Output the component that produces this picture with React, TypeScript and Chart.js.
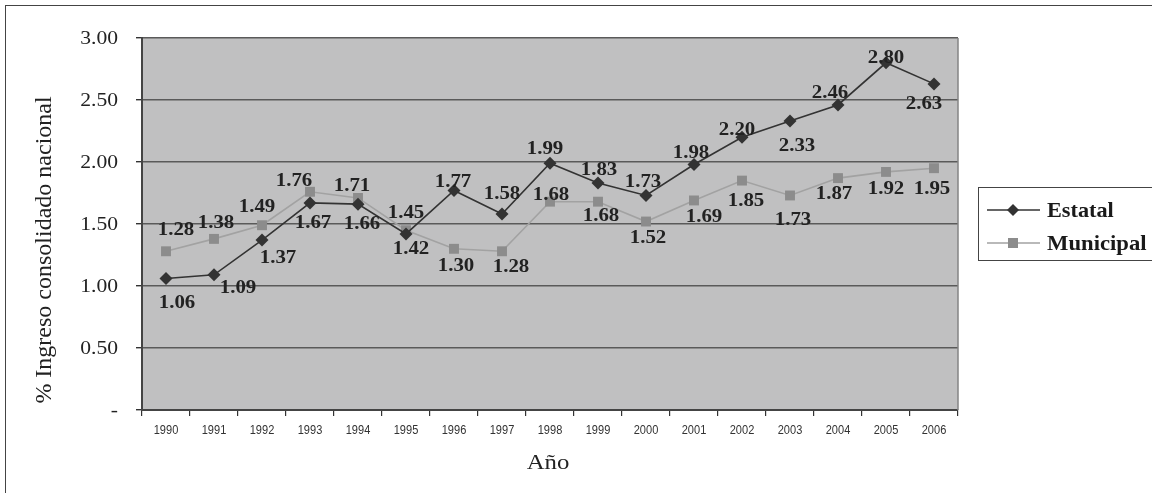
import React, { useEffect, useRef } from "react";
import { Chart, registerables } from "chart.js";

Chart.register(...registerables);

// ---- data ----
const YEARS = ["1990", "1991", "1992", "1993", "1994", "1995", "1996", "1997", "1998", "1999", "2000", "2001", "2002", "2003", "2004", "2005", "2006"];
const ESTATAL = [1.06, 1.09, 1.37, 1.67, 1.66, 1.42, 1.77, 1.58, 1.99, 1.83, 1.73, 1.98, 2.2, 2.33, 2.46, 2.8, 2.63];
const MUNICIPAL = [1.28, 1.38, 1.49, 1.76, 1.71, 1.45, 1.3, 1.28, 1.68, 1.68, 1.52, 1.69, 1.85, 1.73, 1.87, 1.92, 1.95];
const Y_TICKS = [0, 0.5, 1, 1.5, 2, 2.5, 3];
const SERIES_NAMES = ["Estatal", "Municipal"];
const X_TITLE = "Año";
const Y_TITLE = "% Ingreso consolidado nacional";

// ---- style: data-label offsets (dx, dy) from each point, in px ----
const ESTATAL_LABEL_OFFSETS = [
  [11, 23], [24, 12], [16, 16], [3, 19], [4, 18], [5, 14], [-1, -10], [0, -22], [-5, -16],
  [1, -15], [-3, -15], [-3, -13], [-5, -9], [7, 23], [-8, -13], [0, -6], [-10, 19],
];
const MUNICIPAL_LABEL_OFFSETS = [
  [10, -23], [2, -17], [-5, -20], [-16, -12], [-6, -13], [0, -19], [2, 16], [9, 14], [1, -8],
  [3, 13], [2, 15], [10, 15], [4, 19], [3, 23], [-4, 14], [0, 16], [-2, 19],
];

const ESTATAL_COLOR = "#333333";
const MUNI_LINE = "#a2a2a2";
const MUNI_MARK = "#8c8c8c";
const PLOT_BG = "#c0c0c1";
const SERIF = "'Liberation Serif', 'Times New Roman', serif";
const SANS = "'Liberation Sans', Arial, sans-serif";

function drawText(
  ctx: CanvasRenderingContext2D,
  text: string,
  x: number,
  y: number,
  font: string,
  align: CanvasTextAlign,
  sx: number,
  color: string,
  baseline: CanvasTextBaseline = "alphabetic"
) {
  ctx.save();
  ctx.translate(x, y);
  ctx.scale(sx, 1);
  ctx.font = font;
  ctx.fillStyle = color;
  ctx.textAlign = align;
  ctx.textBaseline = baseline;
  ctx.fillText(text, 0, 0);
  ctx.restore();
}

function drawDiamond(ctx: CanvasRenderingContext2D, x: number, y: number, r: number, color: string) {
  ctx.beginPath();
  ctx.moveTo(x, y - r);
  ctx.lineTo(x + r, y);
  ctx.lineTo(x, y + r);
  ctx.lineTo(x - r, y);
  ctx.closePath();
  ctx.fillStyle = color;
  ctx.fill();
}

const decorPlugin = {
  id: "decor",
  beforeDraw(chart: any) {
    const { ctx, chartArea } = chart;
    ctx.save();
    // outer frame
    ctx.strokeStyle = "#444";
    ctx.lineWidth = 1;
    ctx.strokeRect(5.5, 5.5, chart.width + 20, chart.height + 20);
    // plot background
    ctx.fillStyle = PLOT_BG;
    ctx.fillRect(chartArea.left, chartArea.top, chartArea.right - chartArea.left, chartArea.bottom - chartArea.top);
    ctx.restore();
  },
  afterDraw(chart: any) {
    const { ctx, chartArea } = chart;
    const xs = chart.scales.x;
    const ys = chart.scales.y;
    ctx.save();
    // right border of plot
    ctx.strokeStyle = "#858585";
    ctx.lineWidth = 1.5;
    ctx.beginPath();
    ctx.moveTo(chartArea.right, chartArea.top);
    ctx.lineTo(chartArea.right, chartArea.bottom);
    ctx.stroke();

    // y tick labels
    Y_TICKS.forEach((v) => {
      const y = ys.getPixelForValue(v);
      const label = v === 0 ? "-" : v.toFixed(2);
      drawText(ctx, label, 118, y + 6, `18px ${SERIF}`, "right", 1.2, "#222");
    });
    // x tick labels
    YEARS.forEach((yr, i) => {
      const x = xs.getPixelForValue(i);
      drawText(ctx, yr, x, 434, `13px ${SANS}`, "center", 0.85, "#333");
    });
    // axis titles
    drawText(ctx, X_TITLE, 548, 469, `21px ${SERIF}`, "center", 1.18, "#222");
    ctx.save();
    ctx.translate(45, 250);
    ctx.rotate(-Math.PI / 2);
    ctx.font = `24px ${SERIF}`;
    ctx.fillStyle = "#222";
    ctx.textAlign = "center";
    ctx.textBaseline = "middle";
    ctx.fillText(Y_TITLE, 0, 0);
    ctx.restore();

    // legend
    ctx.fillStyle = "#fff";
    ctx.fillRect(978, 187, 200, 73);
    ctx.strokeStyle = "#444";
    ctx.lineWidth = 1;
    ctx.strokeRect(978.5, 187.5, 200, 73);
    // Estatal
    ctx.strokeStyle = ESTATAL_COLOR;
    ctx.lineWidth = 1.5;
    ctx.beginPath();
    ctx.moveTo(987, 210);
    ctx.lineTo(1040, 210);
    ctx.stroke();
    drawDiamond(ctx, 1013, 210, 6, ESTATAL_COLOR);
    drawText(ctx, SERIES_NAMES[0], 1047, 217, `bold 21px ${SERIF}`, "left", 1.06, "#1a1a1a");
    // Municipal
    ctx.strokeStyle = MUNI_LINE;
    ctx.beginPath();
    ctx.moveTo(987, 243);
    ctx.lineTo(1040, 243);
    ctx.stroke();
    ctx.fillStyle = MUNI_MARK;
    ctx.fillRect(1008, 238, 10, 10);
    drawText(ctx, SERIES_NAMES[1], 1047, 250, `bold 21px ${SERIF}`, "left", 1.08, "#1a1a1a");
    ctx.restore();
  },
  afterDatasetsDraw(chart: any) {
    const { ctx } = chart;
    const sets = [
      { idx: 0, data: ESTATAL, off: ESTATAL_LABEL_OFFSETS },
      { idx: 1, data: MUNICIPAL, off: MUNICIPAL_LABEL_OFFSETS },
    ];
    sets.forEach((s) => {
      const meta = chart.getDatasetMeta(s.idx);
      meta.data.forEach((pt: any, i: number) => {
        const [dx, dy] = s.off[i];
        drawText(ctx, s.data[i].toFixed(2), pt.x + dx, pt.y + dy + 6.5, `bold 18px ${SERIF}`, "center", 1.16, "#222");
      });
    });
  },
};

export default function App() {
  const ref = useRef<HTMLCanvasElement | null>(null);
  useEffect(() => {
    if (!ref.current) return;
    const chart = new Chart(ref.current, {
      type: "line",
      data: {
        labels: YEARS,
        datasets: [
          {
            label: SERIES_NAMES[0],
            data: ESTATAL,
            borderColor: ESTATAL_COLOR,
            backgroundColor: ESTATAL_COLOR,
            borderWidth: 1.6,
            pointStyle: "rectRot",
            pointRadius: 6.5,
            pointBorderWidth: 0,
            pointBackgroundColor: ESTATAL_COLOR,
            tension: 0,
          },
          {
            label: SERIES_NAMES[1],
            data: MUNICIPAL,
            borderColor: MUNI_LINE,
            backgroundColor: MUNI_MARK,
            borderWidth: 1.6,
            pointStyle: "rect",
            pointRadius: 7,
            pointBorderWidth: 0,
            pointBackgroundColor: MUNI_MARK,
            tension: 0,
          },
        ],
      },
      options: {
        animation: false,
        responsive: true,
        maintainAspectRatio: false,
        layout: { padding: { left: 0, top: 38, right: 194, bottom: 0 } },
        plugins: { legend: { display: false }, tooltip: { enabled: false } },
        scales: {
          x: {
            type: "category",
            offset: true,
            ticks: { display: false },
            grid: { drawOnChartArea: false, drawTicks: true, tickLength: 6, color: "#333", lineWidth: 1.2, offset: true },
            border: { display: true, color: "#444", width: 2 },
            afterFit: (scale: any) => {
              scale.height = 83;
            },
          },
          y: {
            min: 0,
            max: 3,
            ticks: { display: false, stepSize: 0.5 },
            grid: { color: "#5a5a5a", lineWidth: 1.4, drawTicks: true, tickLength: 6, tickColor: "#333" },
            border: { display: true, color: "#444", width: 2 },
            afterFit: (scale: any) => {
              scale.width = 142;
            },
          },
        },
      },
      plugins: [decorPlugin],
    });
    return () => chart.destroy();
  }, []);
  return (
    <div style={{ position: "fixed", left: 0, top: 0, width: 1152, height: 493, background: "#fff" }}>
      <canvas ref={ref} />
    </div>
  );
}
